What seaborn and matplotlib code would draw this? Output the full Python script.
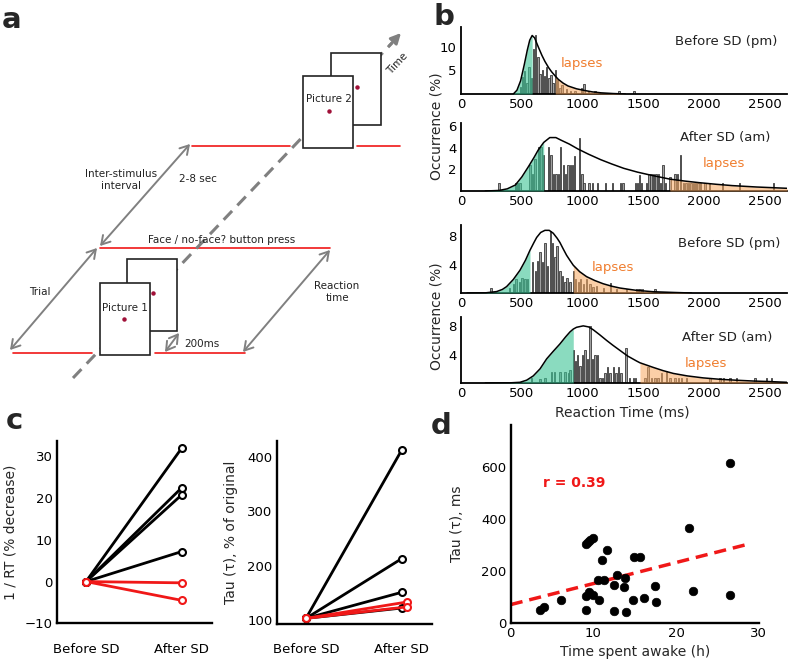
import numpy as np
import matplotlib.pyplot as plt
from matplotlib.patches import Rectangle
import seaborn as sns

sns.set_theme(style="ticks")
plt.rcParams['font.family'] = ['DejaVu Sans']

W, H = 800, 667

# ---------------- panel b : RT histograms (ms, % occurrence) ----------------
b1_bar_ms = [488, 506, 524, 542, 560, 578, 596, 614, 632, 650,
             668, 686, 704, 722, 740, 758, 776, 794, 812, 830,
             866, 902, 938, 992, 1010, 1046, 1100, 1136, 1298, 1424]
b1_bar_pct = [1.5, 3.7, 4.8, 2.3, 5.8, 3.4, 9.5, 12.4, 7.9, 4.3,
              5.0, 3.9, 5.7, 3.4, 4.1, 2.4, 5.0, 3.0, 1.3, 1.9,
              1.0, 0.6, 0.6, 1.3, 2.1, 0.6, 0.6, 0.4, 0.6, 0.6]
b1_fit_ms = [430, 460, 490, 520, 545, 565, 585, 605, 635, 665, 690, 720,
             745, 775, 800, 840, 880, 950, 1015, 1080, 1150, 1250, 1350]
b1_fit_pct = [0, 0.8, 2.8, 6.2, 9.3, 11.4, 12.4, 11.9, 10.0, 8.2, 6.9, 5.6,
              4.7, 3.8, 3.1, 2.3, 1.7, 1.1, 0.75, 0.45, 0.25, 0.1, 0]

b2_bar_ms = [311, 446, 466, 486, 568, 587, 608, 635, 657, 676,
             720, 740, 762, 780, 800, 820, 841, 860, 880, 900,
             918, 932, 975, 994, 1013, 1054, 1081, 1122, 1190, 1244,
             1311, 1333, 1433, 1450, 1468, 1486, 1527, 1546, 1563, 1581,
             1603, 1622, 1641, 1662, 1682, 1720, 1760, 1782, 1803, 1830,
             1850, 1870, 1890, 1910, 1930, 1950, 1970, 2005, 2045, 2149,
             2290, 2568]
b2_bar_pct = [0.77, 0.77, 0.77, 0.77, 2.4, 1.6, 3.0, 4.1, 4.1, 3.3,
              4.1, 3.3, 1.6, 1.6, 1.6, 4.1, 2.4, 1.6, 2.4, 2.4,
              2.4, 3.2, 4.9, 1.6, 0.77, 0.77, 0.77, 0.77, 0.77, 0.77,
              0.77, 0.77, 0.77, 0.77, 1.5, 0.77, 0.77, 1.6, 1.6, 1.6,
              1.6, 1.6, 0.77, 2.4, 0.77, 1.3, 1.6, 1.6, 3.3, 0.77,
              0.77, 0.77, 0.77, 0.77, 0.77, 0.77, 0.77, 0.77, 0.77, 0.77,
              0.77, 0.77]
b2_fit_ms = [200, 311, 380, 446, 500, 554, 600, 635, 680, 730, 780, 824, 890, 960,
             1050, 1149, 1240, 1338, 1450, 1555, 1640, 1717, 1840, 1960, 2100,
             2230, 2430, 2680]
b2_fit_pct = [0, 0.05, 0.2, 0.55, 1.3, 2.25, 3.1, 3.8, 4.5, 4.95, 4.95, 4.7, 4.35, 3.9,
              3.4, 2.9, 2.5, 2.1, 1.75, 1.48, 1.28, 1.1, 0.92, 0.77, 0.62,
              0.5, 0.37, 0.25]

b3_bar_ms = [247, 397, 430, 452, 479, 501, 526, 548, 589, 611,
             630, 649, 671, 690, 709, 737, 753, 772, 791, 813,
             835, 854, 873, 895, 923, 942, 964, 983, 1005, 1033,
             1060, 1087, 1115, 1170, 1230, 1279, 1361, 1444, 1457, 1471,
             1493, 1594]
b3_bar_pct = [0.7, 0.7, 1.3, 2.0, 1.5, 2.1, 2.0, 2.0, 4.3, 3.1,
              4.5, 5.7, 4.3, 7.0, 3.8, 8.7, 7.0, 5.0, 6.6, 3.1,
              2.4, 1.5, 2.1, 1.5, 3.1, 2.0, 1.5, 2.0, 1.3, 2.0,
              1.3, 0.8, 1.0, 0.7, 1.4, 0.6, 0.5, 0.6, 0.6, 0.6,
              0.6, 0.6]
b3_fit_ms = [50, 200, 293, 340, 375, 430, 485, 530, 567, 600, 622, 655, 690, 725,
             758, 790, 813, 840, 868, 895, 923, 975, 1032, 1100, 1169, 1240, 1306,
             1443, 1580, 1745, 1895]
b3_fit_pct = [0, 0.02, 0.2, 0.5, 0.9, 1.9, 3.2, 4.6, 6.0, 7.1, 7.8, 8.5, 8.8, 8.8,
              8.4, 7.7, 7.1, 6.2, 5.3, 4.6, 3.9, 3.0, 2.3, 1.75, 1.3, 0.95, 0.7,
              0.37, 0.18, 0.08, 0]

b4_bar_ms = [581, 649, 690, 745, 767, 813, 854, 882, 895, 923,
             942, 959, 978, 997, 1019, 1038, 1060, 1079, 1101, 1120,
             1142, 1164, 1183, 1205, 1224, 1252, 1274, 1293, 1315, 1356,
             1383, 1416, 1435, 1512, 1539, 1566, 1594, 1621, 1649, 1690,
             1717, 1758, 1786, 1813, 1854, 2047, 2128, 2156, 2211, 2265,
             2416, 2512, 2553]
b4_bar_pct = [0.7, 0.5, 0.7, 1.5, 1.5, 1.5, 1.5, 1.4, 1.9, 4.7,
              3.1, 3.9, 2.4, 3.9, 4.6, 3.4, 8.0, 3.4, 3.9, 3.9,
              0.7, 0.7, 1.4, 2.3, 1.4, 2.3, 1.4, 2.3, 1.4, 5.0,
              0.7, 0.7, 0.7, 0.7, 2.3, 0.7, 0.7, 0.7, 1.4, 1.7,
              0.7, 0.7, 0.7, 0.7, 0.7, 0.7, 0.7, 0.7, 0.7, 0.7,
              0.7, 0.7, 0.7]
b4_fit_ms = [200, 400, 485, 540, 594, 650, 704, 760, 813, 860, 896, 923, 950, 1005,
             1050, 1087, 1140, 1197, 1250, 1306, 1370, 1443, 1471, 1580, 1660, 1745,
             1860, 1991, 2130, 2265, 2400, 2540, 2680]
b4_fit_pct = [0, 0.02, 0.1, 0.4, 1.0, 2.0, 3.4, 4.5, 5.5, 6.5, 7.2, 7.6, 7.85, 8.05,
              7.9, 7.5, 6.8, 6.0, 5.3, 4.6, 3.8, 3.1, 2.85, 2.2, 1.75, 1.35,
              1.0, 0.72, 0.52, 0.39, 0.28, 0.2, 0.1]

# fast-response (green) end and lapse (orange) start, ms
b_green_end = [585, 680, 567, 923]
b_lapse_start = [775, 1717, 923, 1471]
b_titles = ["Before SD (pm)", "After SD (am)", "Before SD (pm)", "After SD (am)"]
b_yticks = [[5, 10], [2, 4, 6], [4, 8], [4, 8]]
b_xticks = [0, 500, 1000, 1500, 2000, 2500]

# ---------------- panel c : individual changes ----------------
c_sessions = ["Before SD", "After SD"]
rt_before = [0, 0, 0, 0, 0, 0]
rt_after = [32.0, 22.5, 20.8, 7.2, -0.3, -4.5]
tau_before = [103, 103, 103, 103, 103, 103]
tau_after = [413, 213, 151, 122, 133, 124]
c_vulnerable = [True, True, True, True, False, False]

# ---------------- panel d : tau vs time awake ----------------
awake_h = [3.55, 4.03, 6.09, 9.07, 9.4, 9.6, 9.9, 9.07, 9.48, 10.0,
           9.07, 10.5, 10.7, 11.1, 11.7, 11.3, 12.5, 12.8, 12.5, 13.75,
           13.8, 14.0, 14.9, 15.6, 14.8, 16.1, 17.4, 17.6, 21.6, 22.1,
           26.5, 26.5]
tau_ms = [49, 62, 86, 302, 311, 319, 324, 104, 118, 105,
          47, 166, 86, 240, 280, 163, 146, 184, 45, 136,
          171, 40, 254, 251, 86, 96, 140, 80, 364, 123,
          614, 108]

RED = '#f01818'
GRAY = '#808080'
ORANGE_TXT = '#f07d2e'

fig = plt.figure(figsize=(W / 100, H / 100), dpi=100)


def px_axes(x0, y0, x1, y1):
    return fig.add_axes([x0 / W, 1 - y1 / H, (x1 - x0) / W, (y1 - y0) / H])


def fig_text(x, y, s, **kw):
    fig.text(x / W, 1 - y / H, s, **kw)


def style_axes(ax, lw=1.4, size=9.5):
    sns.despine(ax=ax)
    for sp in ("left", "bottom"):
        ax.spines[sp].set_color("black")
        ax.spines[sp].set_linewidth(lw)
    ax.tick_params(length=0, pad=3, labelsize=size, colors="black")
    ax.grid(False)
    ax.set_facecolor("none")


# ---------------- panel a : task schematic ----------------
axa = px_axes(0, 0, 420, 420)
axa.set_xlim(0, 420)
axa.set_ylim(420, 0)
axa.axis("off")

for x0, x1, y in [(13, 92, 353), (155, 245, 353), (100, 330, 248), (192, 290, 146), (357, 400, 146)]:
    axa.plot([x0, x1], [y, y], color=RED, lw=1.2, zorder=1)

axa.plot([73, 392], [378, 43], color=GRAY, lw=2.2, ls=(0, (4, 2.5)), zorder=1)
axa.annotate("", xy=(401, 33), xytext=(389, 46),
             arrowprops=dict(arrowstyle="-|>", color=GRAY, lw=2, mutation_scale=15,
                             shrinkA=0, shrinkB=0))

for (x, y) in [(127, 259), (100, 283), (331, 53), (303, 76)]:
    axa.add_patch(Rectangle((x, y), 50, 72, facecolor="white", edgecolor="#222222",
                            lw=1.2, zorder=3))
for (x, y) in [(124, 319), (153, 293), (329, 111), (357, 87)]:
    axa.plot(x, y, "o", color="#a01038", ms=2.2, zorder=4)

for p0, p1 in [((10, 350), (97, 248)), ((100, 246), (190, 144)),
               ((243, 352), (330, 250)), ((165, 352), (179, 333))]:
    axa.annotate("", xy=p1, xytext=p0,
                 arrowprops=dict(arrowstyle="<->,head_length=0.5,head_width=0.3",
                                 color=GRAY, lw=1.4, mutation_scale=12,
                                 shrinkA=0, shrinkB=0))

ta = dict(fontsize=7.5, ha="center", va="center", color="#222222", zorder=5)
axa.text(125, 308, "Picture 1", **ta)
axa.text(329, 99, "Picture 2", **ta)
axa.text(398, 64, "Time", rotation=47, **ta)
axa.text(121, 180, "Inter-stimulus\ninterval", linespacing=1.3, **ta)
axa.text(198, 179, "2-8 sec", **ta)
axa.text(222, 240, "Face / no-face? button press", **ta)
axa.text(40, 292, "Trial", **ta)
axa.text(337, 292, "Reaction\ntime", linespacing=1.3, **ta)
axa.text(202, 344, "200ms", **ta)

# ---------------- panel b ----------------
b_boxes = [(461, 27, 787, 94), (461, 123, 787, 191), (461, 225, 787, 293), (461, 317, 787, 383)]
b_ymax = [14.2, 6.3, 9.55, 9.3]
b_title_pos = [(777, 42), (770, 138), (780, 243), (772, 338)]
b_lapse_pos = [(582, 63), (724, 164), (613, 267), (706, 364)]
b_data = [(b1_bar_ms, b1_bar_pct, b1_fit_ms, b1_fit_pct),
          (b2_bar_ms, b2_bar_pct, b2_fit_ms, b2_fit_pct),
          (b3_bar_ms, b3_bar_pct, b3_fit_ms, b3_fit_pct),
          (b4_bar_ms, b4_bar_pct, b4_fit_ms, b4_fit_pct)]

for i, (bx, bh, fx, fy) in enumerate(b_data):
    ax = px_axes(*b_boxes[i])
    ax.bar(bx, bh, width=12, color="#a0a0a0", edgecolor="#3a3a3a", linewidth=0.6, zorder=2)
    fx = np.array(fx, dtype=float)
    fy = np.array(fy, dtype=float)
    ax.fill_between(fx, fy, where=fx <= b_green_end[i], color="#3cc495", alpha=0.6, lw=0, zorder=3)
    ax.fill_between(fx, fy, where=fx >= b_lapse_start[i], color="#f9a860", alpha=0.55, lw=0, zorder=3)
    sns.lineplot(x=fx, y=fy, ax=ax, color="black", linewidth=1.1, zorder=4)
    ax.set_xlim(0, 2680)
    ax.set_ylim(0, b_ymax[i])
    ax.set_xticks(b_xticks)
    ax.set_yticks(b_yticks[i])
    style_axes(ax, lw=1.3, size=9.5)
    ax.set_xlabel("")
    ax.set_ylabel("")
    fig_text(*b_title_pos[i], b_titles[i], fontsize=9.5, ha="right", va="center", color="#222222")
    fig_text(*b_lapse_pos[i], "lapses", fontsize=9.5, ha="center", va="center", color=ORANGE_TXT)

fig_text(436, 126, "Occurrence (%)", fontsize=10, rotation=90, ha="center", va="center")
fig_text(436, 316, "Occurrence (%)", fontsize=10, rotation=90, ha="center", va="center")
fig_text(622, 412, "Reaction Time (ms)", fontsize=10, ha="center", va="center")

# ---------------- panel c ----------------
axc1 = px_axes(56.7, 441, 211.7, 623.3)
axc2 = px_axes(276.7, 441, 431.7, 624)
for ax, before, after, ylim, yticks, ylab in [
        (axc1, rt_before, rt_after, (-10, 33.7), [-10, 0, 10, 20, 30], "1 / RT (% decrease)"),
        (axc2, tau_before, tau_after, (92.6, 429.6), [100, 200, 300, 400], "Tau (\u03c4), % of original")]:
    order = [k for k in range(len(before)) if c_vulnerable[k]] + \
            [k for k in range(len(before)) if not c_vulnerable[k]]
    for k in order:
        col = "black" if c_vulnerable[k] else RED
        xa = 1.0 if (c_vulnerable[k] or ax is axc1) else 1.05
        sns.lineplot(x=[0, xa], y=[before[k], after[k]], ax=ax, color=col, linewidth=2,
                     marker="o", markersize=5, markerfacecolor="white",
                     markeredgecolor=col, markeredgewidth=1.5)
    ax.set_xlim(-0.306, 1.313)
    ax.set_ylim(*ylim)
    ax.set_yticks(yticks)
    ax.set_xticks([0, 1])
    ax.set_xticklabels(c_sessions)
    style_axes(ax, lw=1.7, size=9.5)
    ax.tick_params(axis="x", pad=14)
    ax.set_ylabel(ylab, fontsize=10)
    ax.yaxis.set_label_coords(-0.25, 0.5)

# ---------------- panel d ----------------
axd = px_axes(510.7, 425, 758.7, 622.7)
axd.set_xlim(0, 29)
sns.regplot(x=awake_h, y=tau_ms, ax=axd, scatter=False, ci=None, truncate=False,
            line_kws=dict(color=RED, lw=2.5, dashes=(3.5, 2)))
sns.scatterplot(x=awake_h, y=tau_ms, ax=axd, color="black", s=38, edgecolor="black", zorder=5)
axd.set_xlim(0, 30)
axd.set_ylim(0, 760)
axd.set_xticks([0, 10, 20, 30])
axd.set_yticks([0, 200, 400, 600])
style_axes(axd, lw=1.7, size=9.5)
axd.set_xlabel("Time spent awake (h)", fontsize=10)
axd.set_ylabel("Tau (\u03c4), ms", fontsize=10)
axd.yaxis.set_label_coords(-0.19, 0.5)
fig_text(574, 483, "r = 0.39", fontsize=10, fontweight="bold", color=RED, ha="center", va="center")

# ---------------- panel letters ----------------
for s, x, y in [("a", 12, 20), ("b", 444, 17), ("c", 14, 421), ("d", 441, 426)]:
    fig_text(x, y, s, fontsize=21, fontweight="bold", ha="center", va="center")

fig.savefig("out.png", dpi=100)
